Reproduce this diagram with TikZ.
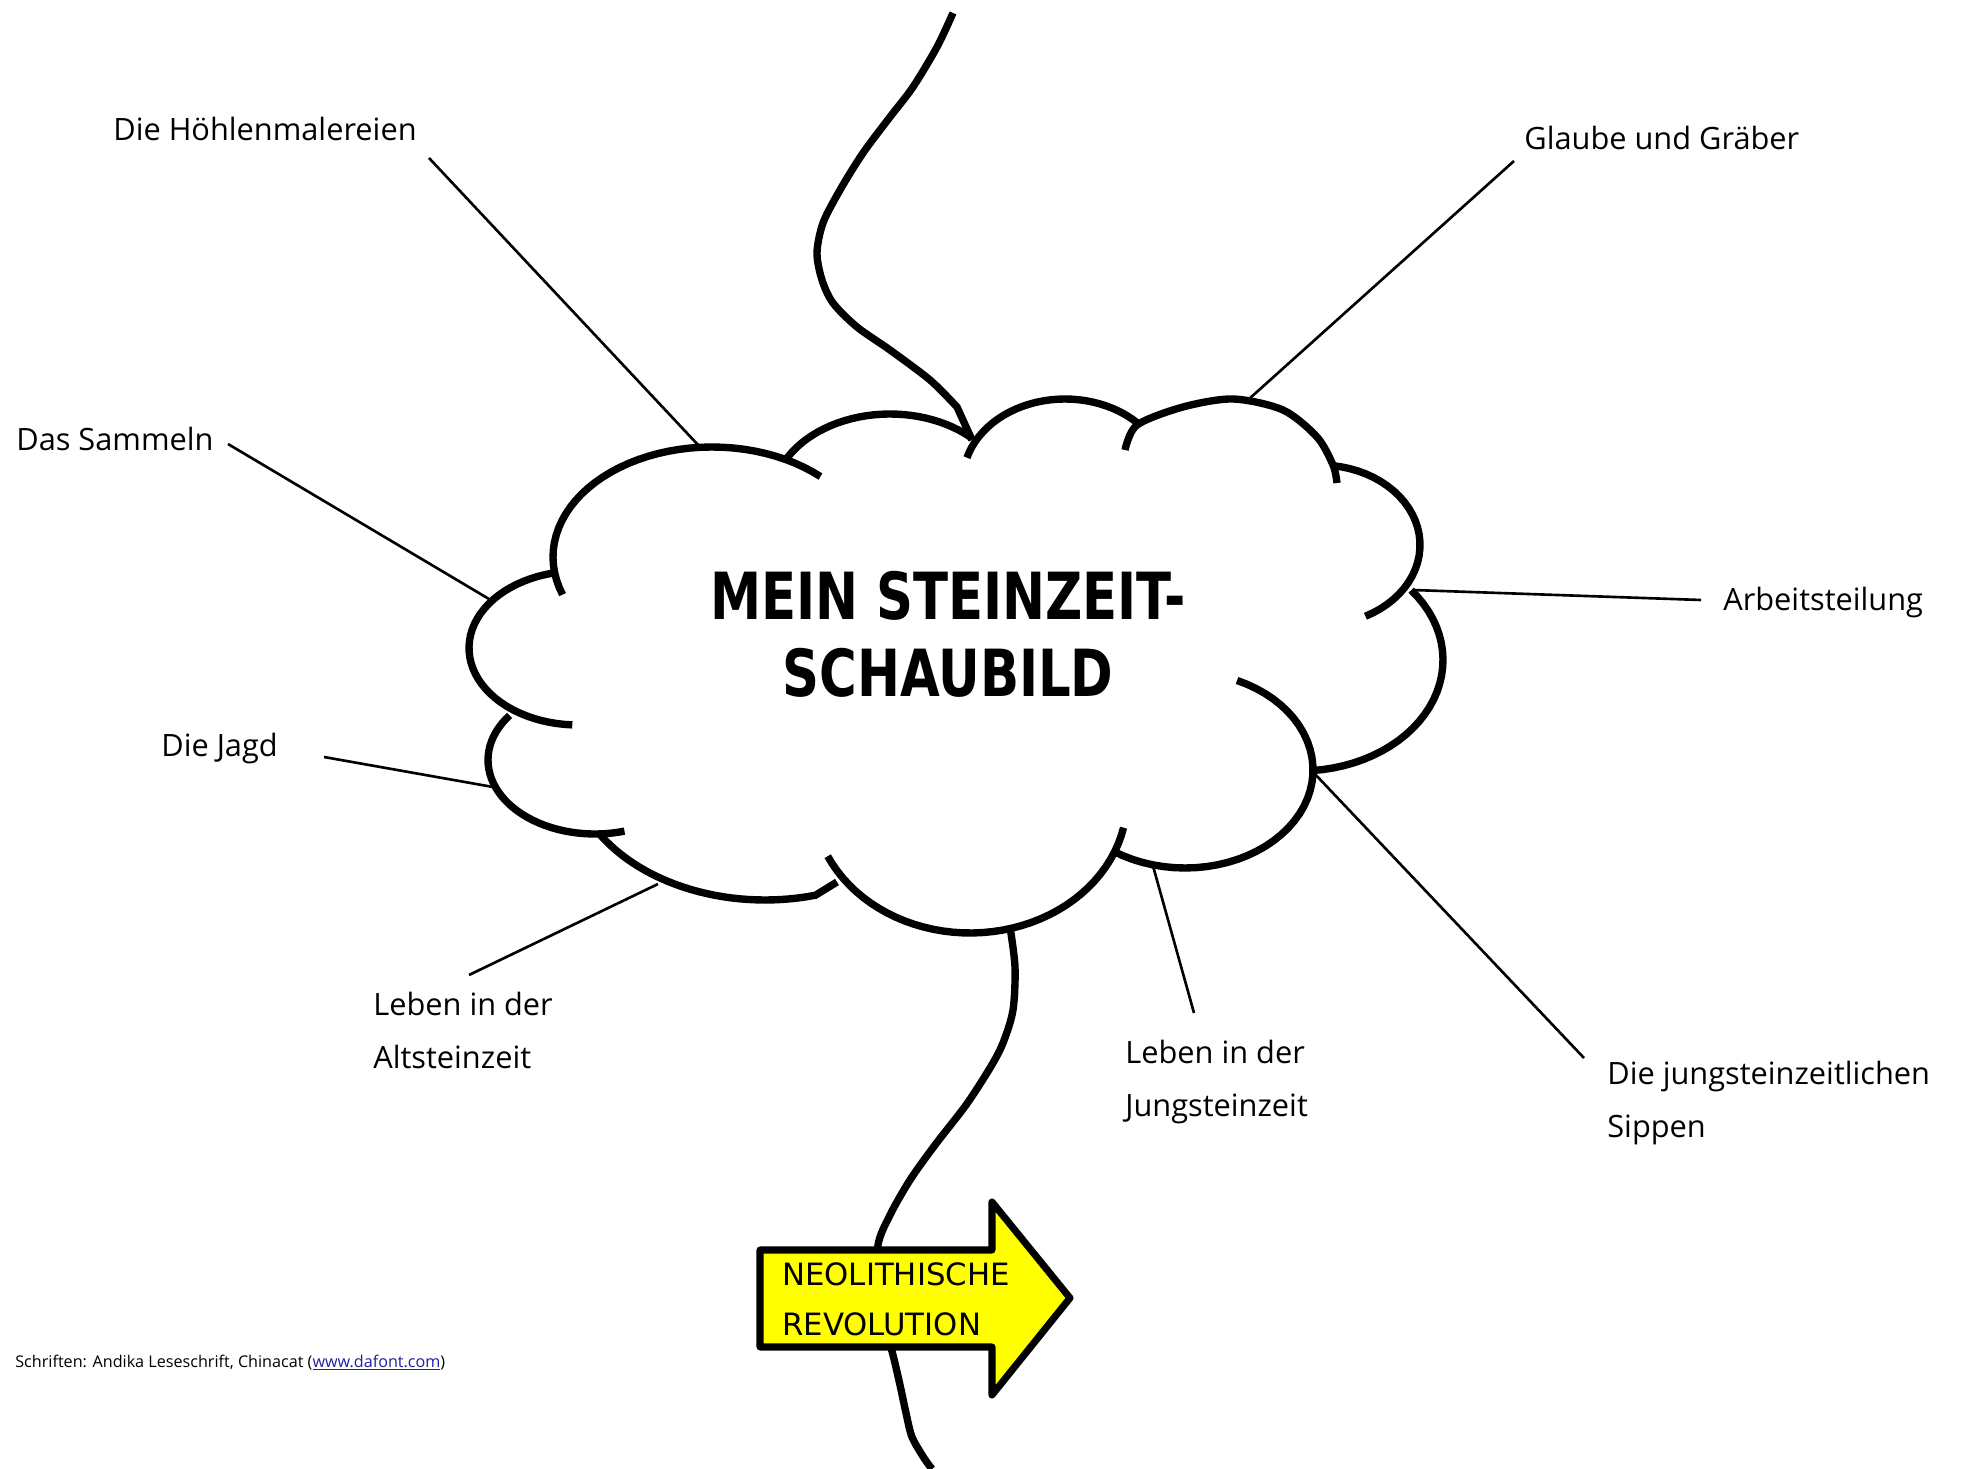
\documentclass[tikz,border=0pt]{standalone}
\usepackage{fontspec}
\setmainfont{Open Sans}
\newfontfamily\titlefont[FakeStretch=0.79]{DejaVu Sans}
\newfontfamily\arrowfont{DejaVu Sans}
\definecolor{arrowyellow}{RGB}{255,255,0}
\definecolor{linkblue}{RGB}{31,31,160}

\tikzset{
	cloudarc/.style={line width=4.2pt},
	spoke/.style={line width=1.5pt},
	topic/.style={anchor=base west, inner sep=0pt, align=left, font=\fontsize{17.5}{30}\selectfont},
	arrowbox/.style={fill=arrowyellow, line width=4pt, line join=round},
}

\begin{document}
\begin{tikzpicture}[x=0.02cm, y=-0.02cm]
	\useasboundingbox (0,0) rectangle (1968,1469);

	% Draw cloud, one bump after the other
	\draw[cloudarc] plot[domain=93:257, samples=40] ({578+109*cos(\x)}, {648+77*sin(\x)});
	\draw[cloudarc] plot[domain=160:313, samples=40] ({712+159*cos(\x)}, {557+110*sin(\x)});
	\draw[cloudarc] plot[domain=207:313, samples=30] ({890+118*cos(\x)}, {500+86*sin(\x)});
	\draw[cloudarc] plot[domain=196:315, samples=30] ({1065+102*cos(\x)}, {480+81*sin(\x)});
	\draw[cloudarc] plot[smooth] coordinates {(1125,450) (1137,425) (1183,407) (1233,399) (1283,410) (1317,437) (1333,465) (1337,483)};
	\draw[cloudarc] plot[domain=-83:63, samples=30] ({1320+100*cos(\x)}, {545+80*sin(\x)});
	\draw[cloudarc] plot[domain=-39:85, samples=30] ({1300+143*cos(\x)}, {660+111*sin(\x)});
	\draw[cloudarc] plot[domain=-66:124, samples=40] ({1185+128*cos(\x)}, {770+98*sin(\x)});
	\draw[cloudarc] plot[domain=12:155, samples=40] ({970+157*cos(\x)}, {800+133*sin(\x)});
	\draw[cloudarc] (837,882) -- plot[domain=75:147.6, samples=30] ({765+195*cos(\x)}, {760+140*sin(\x)});
	\draw[cloudarc] plot[domain=74:217, samples=40] ({595+107*cos(\x)}, {760+74*sin(\x)});

	\node[font=\titlefont\bfseries\fontsize{37}{43.7}\selectfont, align=center, inner sep=0pt] (title) at (948,634) {MEIN STEINZEIT-\\SCHAUBILD};

	% Topics
	\node[topic] (hoehlen) at (113,141) {Die Höhlenmalereien};
	\node[topic] (glaube) at (1524,150) {Glaube und Gräber};
	\node[topic] (sammeln) at (16,451) {Das Sammeln};
	\node[topic] (arbeit) at (1723,611) {Arbeitsteilung};
	\node[topic] (jagd) at (161,756) {Die Jagd};
	\node[topic] (altstein) at (373,1068) {Leben in der\\Altsteinzeit};
	\node[topic] (jungstein) at (1125,1116) {Leben in der\\Jungsteinzeit};
	\node[topic] (sippen) at (1607,1137) {Die jungsteinzeitlichen\\Sippen};

	\coordinate (hoehlenEnd) at (429,158);   \coordinate (cHoehlen) at (700,447);
	\coordinate (glaubeEnd) at (1514,161);   \coordinate (cGlaube) at (1249,399);
	\coordinate (sammelnEnd) at (228,444);   \coordinate (cSammeln) at (489,599);
	\coordinate (arbeitEnd) at (1701,600);   \coordinate (cArbeit) at (1413,590);
	\coordinate (jagdEnd) at (324,757);      \coordinate (cJagd) at (493,787);
	\coordinate (altsteinEnd) at (469,975);  \coordinate (cAltstein) at (658,884);
	\coordinate (jungsteinEnd) at (1194,1013); \coordinate (cJungstein) at (1153,866);
	\coordinate (sippenEnd) at (1584,1058);  \coordinate (cSippen) at (1313,772);

	\draw[spoke] (hoehlenEnd) -- (cHoehlen);
	\draw[spoke] (glaubeEnd) -- (cGlaube);
	\draw[spoke] (sammelnEnd) -- (cSammeln);
	\draw[spoke] (arbeitEnd) -- (cArbeit);
	\draw[spoke] (jagdEnd) -- (cJagd);
	\draw[spoke] (altsteinEnd) -- (cAltstein);
	\draw[spoke] (jungsteinEnd) -- (cJungstein);
	\draw[spoke] (sippenEnd) -- (cSippen);

	% Time line through the cloud
	\coordinate (topStart) at (953,13);
	\coordinate (cTop) at (972,440);
	\coordinate (cBottom) at (1010,927);
	\coordinate (pageBottom) at (932,1469);
	\draw[cloudarc] plot[smooth] coordinates {(topStart) (937,47) (913,87) (890,117) (863,153) (840,190) (823,223) (817,253) (822,280) (833,303) (857,327) (890,350) (930,380) (957,407)} -- (cTop);
	\draw[cloudarc] plot[smooth] coordinates {(cBottom) (1015,967) (1013,1010) (1003,1043) (990,1068) (966,1105) (935,1145) (910,1180) (890,1215) (878,1245) (878,1290) (886,1330) (893,1355) (900,1385) (906,1413) (912,1437) (924,1458) (pageBottom)};

	% Arrow
	\draw[arrowbox] (760,1250) -- (992,1250) -- (992,1202) -- (1070,1298) -- (992,1395) -- (992,1347) -- (760,1347) -- cycle;
	\node[anchor=base west, inner sep=0pt, align=left, font=\arrowfont\fontsize{17.5}{28.3}\selectfont] (neolith) at (782,1335) {NEOLITHISCHE\\REVOLUTION};

	\node[anchor=base west, inner sep=0pt, font=\fontsize{9.2}{11}\selectfont] (credits) at (15,1367) {Schriften: Andika Leseschrift, Chinacat ({\color{linkblue}\underline{www.dafont.com}})};
\end{tikzpicture}
\end{document}
